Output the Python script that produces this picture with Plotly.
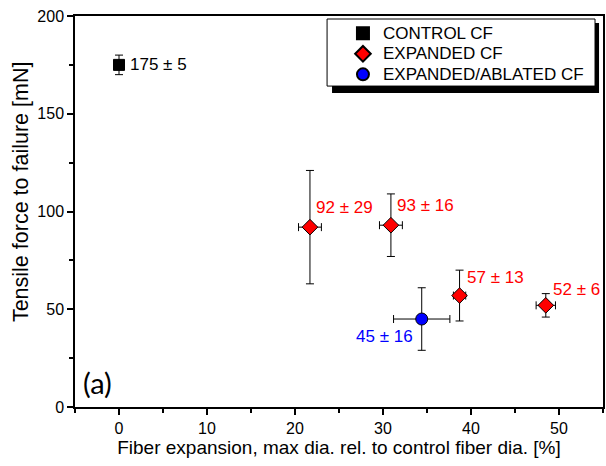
import plotly.graph_objects as go

# Data
control_x = [0]
control_y = [175]
control_yerr = [5]

exp_x = [21.7, 30.9, 38.7, 48.5]
exp_y = [92, 93, 57, 52]
exp_yerr = [29, 16, 13, 6]
exp_xerr = [1.3, 1.3, 0.7, 1.1]

abl_x = [34.4]
abl_y = [45]
abl_yerr = [16]
abl_xerr = [3.2]

control_labels = ["175 ± 5"]
exp_labels = ["92 ± 29", "93 ± 16", "57 ± 13", "52 ± 6"]
abl_labels = ["45 ± 16"]

series_names = ["CONTROL CF", "EXPANDED CF", "EXPANDED/ABLATED CF"]
x_title = "Fiber expansion, max dia. rel. to control fiber dia. [%]"
y_title = "Tensile force to failure [mN]"
x_ticks = [0, 10, 20, 30, 40, 50]
y_ticks = [0, 50, 100, 150, 200]

FONT = '"Liberation Sans", Arial, sans-serif'


def leg(name):
    return '<span style="font-size:17px">' + name + '</span>'


fig = go.Figure()

fig.add_trace(go.Scatter(
    x=control_x, y=control_y, mode="markers", name=leg(series_names[0]),
    marker=dict(symbol="square", size=11, color="black", line=dict(color="black", width=1)),
    error_y=dict(type="data", array=control_yerr, color="black", thickness=1, width=4),
))
fig.add_trace(go.Scatter(
    x=exp_x, y=exp_y, mode="markers", name=leg(series_names[1]),
    marker=dict(symbol="diamond", size=12, color="#ff0000", line=dict(color="black", width=1)),
    error_y=dict(type="data", array=exp_yerr, color="black", thickness=1, width=4),
    error_x=dict(type="data", array=exp_xerr, color="black", thickness=1, width=4),
))
fig.add_trace(go.Scatter(
    x=abl_x, y=abl_y, mode="markers", name=leg(series_names[2]),
    marker=dict(symbol="circle", size=12, color="#0000ff", line=dict(color="black", width=1)),
    error_y=dict(type="data", array=abl_yerr, color="black", thickness=1, width=4),
    error_x=dict(type="data", array=abl_xerr, color="black", thickness=1, width=4),
))

# Value labels
LBL = 17
for x, y, t in zip(control_x, control_y, control_labels):
    fig.add_annotation(x=x, y=y, text=t, showarrow=False, xanchor="left", yanchor="middle",
                       xshift=9, font=dict(family=FONT, size=LBL, color="black"))
exp_shift = [(4, 20), (4, 20), (5, 18), (5, 16)]
for (x, y, t), (dx, dy) in zip(zip(exp_x, exp_y, exp_labels), exp_shift):
    fig.add_annotation(x=x, y=y, text=t, showarrow=False, xanchor="left", yanchor="middle",
                       xshift=dx, yshift=dy, font=dict(family=FONT, size=LBL, color="#ff0000"))
for x, y, t in zip(abl_x, abl_y, abl_labels):
    fig.add_annotation(x=x, y=y, text=t, showarrow=False, xanchor="right", yanchor="middle",
                       xshift=-7, yshift=-17, font=dict(family=FONT, size=LBL, color="#0000ff"))

fig.add_annotation(x=0.012, y=0.012, xref="paper", yref="paper", text="(a)", showarrow=False,
                   xanchor="left", yanchor="bottom",
                   font=dict(family="Lato, 'Open Sans', sans-serif", size=29, color="black"))

# Y axis title (sits slightly above the axis centre in the reference)
fig.add_annotation(x=-0.102, y=0.55, xref="paper", yref="paper", text=y_title, showarrow=False,
                   textangle=-90, xanchor="center", yanchor="middle",
                   font=dict(family=FONT, size=21.5, color="black"))

# Legend frame with drop shadow (legend itself is transparent, drawn on top)
fig.add_shape(type="rect", xref="paper", yref="paper", x0=0.4868, x1=0.9925, y0=0.8029, y1=0.9821,
              fillcolor="black", line=dict(width=0), layer="above")
fig.add_shape(type="rect", xref="paper", yref="paper", x0=0.4774, x1=0.9849, y0=0.8208, y1=0.9923,
              fillcolor="white", line=dict(color="black", width=1), layer="above")

fig.update_layout(
    width=606, height=466,
    margin=dict(l=75, r=1, t=16, b=59),
    plot_bgcolor="white", paper_bgcolor="white",
    font=dict(family=FONT, size=16, color="black"),
    showlegend=True,
    legend=dict(x=0.5075, y=0.9949, xanchor="left", yanchor="top",
                bgcolor="rgba(0,0,0,0)", borderwidth=0,
                font=dict(family=FONT, size=13.5, color="black"),
                itemwidth=30,
                tracegroupgap=0, itemsizing="constant"),
    xaxis=dict(range=[-5, 55], tickvals=x_ticks, ticks="outside", ticklen=6,
               tickcolor="black", tickwidth=1.5,
               minor=dict(dtick=5, tick0=0, ticks="outside", ticklen=4, tickcolor="black", tickwidth=1.5),
               showline=True, linecolor="black", linewidth=1.5, mirror=True, showgrid=False, zeroline=False,
               title=dict(text=x_title, font=dict(size=19), standoff=4),
               tickfont=dict(size=16)),
    xaxis2=dict(matches="x", overlaying="x", side="top", anchor="y", range=[-5, 55],
                tickvals=x_ticks, ticks="outside", ticklen=2, tickcolor="black", tickwidth=1.5,
                minor=dict(dtick=5, tick0=0, ticks="outside", ticklen=2, tickcolor="black", tickwidth=1.5),
                showticklabels=False, showgrid=False, zeroline=False, showline=False),
    yaxis=dict(range=[0, 200], tickvals=y_ticks, ticks="outside", ticklen=6,
               tickcolor="black", tickwidth=1.5,
               minor=dict(dtick=25, tick0=0, ticks="outside", ticklen=4, tickcolor="black", tickwidth=1.5),
               showline=True, linecolor="black", linewidth=1.5, mirror=True, showgrid=False, zeroline=False,
               tickfont=dict(size=16)),
)

fig.write_html("out.html", config={"displayModeBar": False},
               post_script="document.body.style.margin='0px';")
